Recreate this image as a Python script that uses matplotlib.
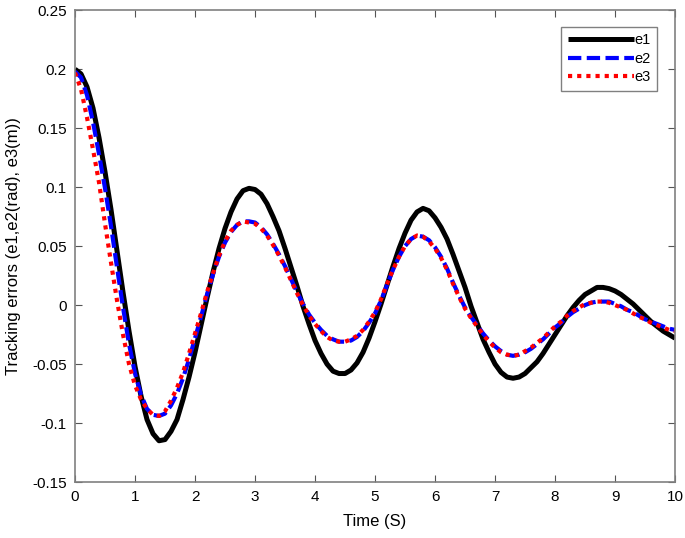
import numpy as np
import matplotlib
matplotlib.use('Agg')
from matplotlib import pyplot as plt

plt.rcParams['font.family'] = ['Liberation Sans', 'DejaVu Sans']

# time axis, 0.1 s steps
t = np.round(np.arange(0, 101) * 0.1, 1)

# tracking errors
e1 = [0.200, 0.196, 0.185, 0.167, 0.142, 0.113, 0.081, 0.046, 0.011, -0.022,
      -0.052, -0.077, -0.097, -0.109, -0.115, -0.114, -0.107, -0.097, -0.080, -0.061,
      -0.040, -0.017, 0.006, 0.028, 0.048, 0.065, 0.079, 0.090, 0.097, 0.099,
      0.098, 0.094, 0.086, 0.075, 0.063, 0.048, 0.032, 0.016, -0.001, -0.016,
      -0.030, -0.041, -0.050, -0.056, -0.058, -0.058, -0.055, -0.049, -0.040, -0.028,
      -0.014, 0.001, 0.017, 0.033, 0.048, 0.061, 0.072, 0.079, 0.082, 0.080,
      0.074, 0.066, 0.056, 0.043, 0.029, 0.015, -0.001, -0.015, -0.029, -0.040,
      -0.050, -0.057, -0.061, -0.062, -0.061, -0.058, -0.053, -0.048, -0.041, -0.033,
      -0.025, -0.017, -0.009, -0.002, 0.004, 0.009, 0.012, 0.015, 0.015, 0.014,
      0.012, 0.009, 0.005, 0.001, -0.004, -0.009, -0.014, -0.018, -0.022, -0.025,
      -0.028]
e2 = [0.198, 0.193, 0.178, 0.155, 0.128, 0.099, 0.067, 0.032, -0.002, -0.033,
      -0.058, -0.076, -0.088, -0.093, -0.094, -0.092, -0.085, -0.075, -0.062, -0.046,
      -0.028, -0.010, 0.009, 0.026, 0.041, 0.053, 0.062, 0.068, 0.071, 0.071,
      0.070, 0.066, 0.060, 0.052, 0.043, 0.033, 0.022, 0.011, 0.001, -0.008,
      -0.015, -0.021, -0.026, -0.029, -0.031, -0.031, -0.030, -0.027, -0.022, -0.015,
      -0.007, 0.004, 0.017, 0.030, 0.041, 0.050, 0.056, 0.059, 0.058, 0.055,
      0.049, 0.041, 0.031, 0.019, 0.008, -0.002, -0.010, -0.017, -0.024, -0.030,
      -0.035, -0.039, -0.042, -0.043, -0.042, -0.040, -0.037, -0.033, -0.029, -0.024,
      -0.019, -0.015, -0.010, -0.006, -0.003, 0.000, 0.002, 0.003, 0.003, 0.003,
      0.001, -0.001, -0.004, -0.006, -0.009, -0.012, -0.014, -0.016, -0.018, -0.020,
      -0.021]
e3 = [0.197, 0.183, 0.159, 0.132, 0.104, 0.069, 0.036, 0.004, -0.025, -0.050,
      -0.068, -0.080, -0.088, -0.093, -0.094, -0.090, -0.081, -0.070, -0.057, -0.041,
      -0.024, -0.007, 0.011, 0.027, 0.042, 0.054, 0.063, 0.068, 0.071, 0.070,
      0.069, 0.065, 0.059, 0.051, 0.042, 0.032, 0.021, 0.010, 0.000, -0.009,
      -0.016, -0.022, -0.027, -0.030, -0.031, -0.031, -0.029, -0.026, -0.021, -0.014,
      -0.006, 0.005, 0.018, 0.030, 0.041, 0.050, 0.056, 0.059, 0.058, 0.054,
      0.048, 0.040, 0.030, 0.018, 0.007, -0.003, -0.011, -0.018, -0.025, -0.031,
      -0.036, -0.040, -0.042, -0.043, -0.042, -0.039, -0.036, -0.032, -0.028, -0.023,
      -0.018, -0.014, -0.009, -0.005, -0.002, 0.001, 0.002, 0.003, 0.003, 0.002,
      0.000, -0.002, -0.004, -0.007, -0.010, -0.012, -0.015, -0.017, -0.019, -0.021,
      -0.022]

xticks = list(range(0, 11))
yticks = [-0.15, -0.1, -0.05, 0, 0.05, 0.1, 0.15, 0.2, 0.25]
ylabels = ['-0.15', '-0.1', '-0.05', '0', '0.05', '0.1', '0.15', '0.2', '0.25']

fig = plt.figure(figsize=(6.85, 5.38), dpi=100)
ax = fig.add_axes([0.1095, 0.104, 0.876, 0.877])

ax.plot(t, e1, color='k', lw=3.6, label='e1', solid_capstyle='butt')
ax.plot(t, e2, color='#0000ff', lw=3.0, ls=(0, (3.2, 1.3)), label='e2')
ax.plot(t, e3, color='#ff0000', lw=3.0, ls=(0, (1, 1.2)), label='e3')

ax.set_xlim(0, 10)
ax.set_ylim(-0.15, 0.25)
ax.set_xticks(xticks)
ax.set_yticks(yticks)
ax.set_yticklabels(ylabels)
ax.tick_params(direction='in', top=True, right=True, length=5, width=0.8,
               color='#555555', labelsize=11, pad=6)
for s in ax.spines.values():
    s.set_color('#808080')
    s.set_linewidth(1.2)

ax.set_xlabel('Time (S)', fontsize=12, labelpad=7)
ax.set_ylabel('Tracking errors (e1,e2(rad), e3(m))', fontsize=12)
ax.yaxis.set_label_coords(-0.09, 0.5)

leg = ax.legend(loc='upper right', bbox_to_anchor=(0.97, 0.965), fontsize=10.5,
                handlelength=4.5, handletextpad=0.05, borderpad=0.45,
                labelspacing=0.3, fancybox=False, framealpha=1,
                edgecolor='#808080', borderaxespad=0)
leg.get_frame().set_linewidth(1.0)

plt.savefig('out.png', dpi=100)
